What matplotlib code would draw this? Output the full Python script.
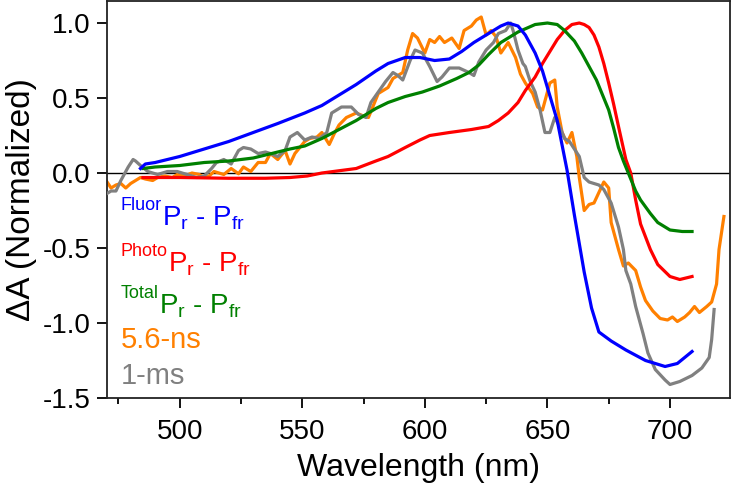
import matplotlib

matplotlib.use("Agg")
import matplotlib.pyplot as plt
from matplotlib.ticker import MultipleLocator

plt.rcParams["font.family"] = ["Liberation Sans", "DejaVu Sans"]
plt.rcParams["mathtext.fontset"] = "custom"
plt.rcParams["mathtext.rm"] = "Liberation Sans"

# --- data ------------------------------------------------------------------
fluor_wl = [484, 486, 490, 500, 510, 520, 530, 540, 551, 558, 565, 572, 580, 585,
            592, 598, 604, 610, 615, 620, 626, 631, 634, 638, 641, 645, 648, 650,
            654, 658, 661, 665, 668, 671, 676, 682, 690, 698, 703, 709]
fluor_val = [0.03, 0.06, 0.07, 0.11, 0.16, 0.21, 0.27, 0.33, 0.40, 0.45, 0.52, 0.59,
             0.68, 0.73, 0.77, 0.77, 0.75, 0.76, 0.81, 0.87, 0.93, 0.98, 1.00, 0.98,
             0.92, 0.80, 0.68, 0.57, 0.35, 0.02, -0.28, -0.66, -0.90, -1.06, -1.12,
             -1.18, -1.25, -1.29, -1.27, -1.19]

photo_wl = [485, 500, 520, 535, 545, 552, 558, 565, 572, 580, 585, 592, 598, 602,
            610, 619, 626, 630, 634, 638, 641, 645, 648, 651, 654, 657, 660, 663,
            665, 667, 669, 671, 673, 675, 677, 679, 682, 684, 686, 688, 692, 695,
            700, 704, 709]
photo_val = [-0.03, -0.03, -0.035, -0.035, -0.03, -0.02, 0.0, 0.015, 0.03, 0.08, 0.11,
             0.17, 0.22, 0.25, 0.27, 0.29, 0.31, 0.35, 0.40, 0.47, 0.55, 0.64, 0.73,
             0.81, 0.89, 0.95, 0.99, 1.00, 0.99, 0.97, 0.92, 0.84, 0.73, 0.60, 0.46,
             0.31, 0.09, 0.0, -0.18, -0.34, -0.51, -0.61, -0.69, -0.71, -0.69]

total_wl = [485, 490, 500, 510, 520, 530, 540, 545, 551, 558, 565, 572, 580, 585,
            592, 599, 606, 613, 618, 622, 626, 631, 638, 645, 650, 654, 657, 661,
            664, 667, 670, 673, 675, 677, 679, 681, 683, 686, 688, 692, 695, 700,
            705, 709]
total_val = [0.03, 0.04, 0.05, 0.07, 0.08, 0.10, 0.14, 0.16, 0.18, 0.23, 0.29, 0.35,
             0.43, 0.47, 0.51, 0.54, 0.58, 0.63, 0.67, 0.72, 0.79, 0.87, 0.94, 0.99,
             1.00, 0.99, 0.95, 0.88, 0.80, 0.71, 0.62, 0.50, 0.42, 0.30, 0.17, 0.08,
             0.0, -0.12, -0.18, -0.27, -0.33, -0.38, -0.39, -0.39]

ns_wl = [470, 472, 474, 476, 478, 480, 482, 484, 486, 489, 491, 494, 497, 499, 502,
         505, 508, 510, 512, 514, 516, 518, 521, 524, 526, 529, 532, 535, 537, 540,
         543, 545, 547, 549, 551, 553, 556, 558, 561, 563, 565, 568, 572, 575, 577,
         579, 581, 585, 587, 590, 591, 593, 595, 597, 600, 602, 604, 606, 608, 611,
         614, 616, 619, 621, 623, 625, 627, 629, 631, 634, 637, 639, 641, 644, 646,
         648, 651, 653, 654, 656, 658, 660, 662, 663, 665, 667, 669, 671, 673, 675,
         676, 679, 681, 683, 686, 688, 690, 693, 696, 699, 701, 703, 706, 708, 710,
         712, 715, 717, 719, 720, 722]
ns_val = [-0.05, -0.10, -0.08, -0.07, -0.10, -0.07, -0.05, -0.03, -0.04, -0.05, -0.03,
          -0.02, -0.03, -0.01, -0.02, 0.0, -0.01, -0.03, -0.02, 0.01, 0.0, -0.01, 0.03,
          -0.005, 0.04, 0.01, 0.07, 0.07, 0.13, 0.09, 0.15, 0.06, 0.13, 0.17, 0.21,
          0.23, 0.24, 0.27, 0.19, 0.26, 0.32, 0.37, 0.40, 0.38, 0.37, 0.45, 0.53, 0.57,
          0.63, 0.66, 0.67, 0.82, 0.93, 0.90, 0.80, 0.89, 0.87, 0.91, 0.87, 0.90, 0.83,
          0.95, 0.98, 1.02, 1.04, 0.92, 0.95, 0.91, 0.80, 0.87, 0.77, 0.66, 0.60, 0.53,
          0.44, 0.42, 0.60, 0.62, 0.44, 0.27, 0.20, 0.27, 0.11, -0.03, -0.25, -0.21,
          -0.20, -0.13, -0.06, -0.10, -0.33, -0.51, -0.62, -0.60, -0.65, -0.76, -0.85,
          -0.92, -0.97, -0.98, -0.96, -0.99, -0.96, -0.93, -0.89, -0.93, -0.89, -0.86,
          -0.74, -0.51, -0.29]

ms_wl = [470, 472, 474, 476, 479, 481, 482, 484, 487, 491, 495, 499, 503, 507, 510,
         513, 515, 518, 521, 524, 526, 529, 532, 535, 537, 540, 543, 545, 548, 551,
         554, 557, 560, 562, 566, 570, 573, 576, 578, 581, 584, 587, 589, 591, 594,
         596, 599, 602, 605, 607, 610, 614, 618, 620, 622, 625, 628, 630, 633, 635,
         636, 638, 640, 641, 643, 645, 647, 649, 651, 653, 655, 657, 659, 661, 663,
         665, 667, 671, 673, 676, 679, 681, 682, 684, 686, 689, 691, 694, 698, 700,
         704, 709, 713, 716, 717, 718]
ms_val = [-0.14, -0.12, -0.12, -0.05, 0.04, 0.09, 0.08, 0.05, 0.01, -0.01, 0.01, 0.01,
          -0.01, -0.03, -0.02, 0.03, 0.07, 0.09, 0.06, 0.15, 0.17, 0.16, 0.13, 0.14,
          0.13, 0.11, 0.15, 0.24, 0.27, 0.22, 0.24, 0.23, 0.27, 0.40, 0.44, 0.44, 0.39,
          0.37, 0.47, 0.54, 0.61, 0.67, 0.65, 0.62, 0.75, 0.82, 0.80, 0.71, 0.61, 0.64,
          0.70, 0.70, 0.67, 0.65, 0.74, 0.82, 0.87, 0.93, 0.95, 1.00, 0.95, 0.82, 0.73,
          0.71, 0.61, 0.54, 0.42, 0.27, 0.27, 0.37, 0.31, 0.23, 0.21, 0.16, 0.11, -0.03,
          -0.06, -0.08, -0.11, -0.20, -0.36, -0.51, -0.65, -0.74, -0.89, -1.07, -1.20,
          -1.31, -1.38, -1.41, -1.39, -1.35, -1.30, -1.23, -1.11, -0.91]

x_ticks = [500, 550, 600, 650, 700]
y_ticks = [-1.5, -1.0, -0.5, 0.0, 0.5, 1.0]

# (superscript, main text, colour) for the coloured labels in the lower left
labels = [
    ("Fluor", r"P$_\mathregular{r}$ - P$_\mathregular{fr}$", "#0000ff"),
    ("Photo", r"P$_\mathregular{r}$ - P$_\mathregular{fr}$", "#ff0000"),
    ("Total", r"P$_\mathregular{r}$ - P$_\mathregular{fr}$", "#008000"),
]
plain_labels = [("5.6-ns", "#ff8000"), ("1-ms", "#808080")]

fig = plt.figure(figsize=(7.32, 4.83), dpi=100)
ax = fig.add_axes([0.146, 0.176, 0.851, 0.822])

ax.axhline(0, color="black", lw=1.0, zorder=1)
lw = 2.3
ax.plot(ns_wl, ns_val, color="#ff8000", lw=lw, zorder=2)
ax.plot(ms_wl, ms_val, color="#808080", lw=lw, zorder=3)
ax.plot(photo_wl, photo_val, color="#ff0000", lw=lw, zorder=4)
ax.plot(total_wl, total_val, color="#008000", lw=lw, zorder=5)
ax.plot(fluor_wl, fluor_val, color="#0000ff", lw=lw, zorder=6)

ax.set_xlim(470.3, 724.4)
ax.set_ylim(-1.5, 1.147)
ax.set_xticks(x_ticks)
ax.xaxis.set_minor_locator(MultipleLocator(25))
ax.set_yticks(y_ticks)
ax.set_yticklabels([f"{v:.1f}" for v in y_ticks])

ax.tick_params(axis="both", which="major", direction="out", length=7, width=1.3,
               labelsize=20, pad=5)
ax.tick_params(axis="x", which="major", pad=8)
ax.tick_params(axis="x", which="minor", direction="out", length=4, width=1.3)
for sp in ax.spines.values():
    sp.set_linewidth(1.3)
    sp.set_color("#222222")

ax.set_xlabel("Wavelength (nm)", fontsize=23, labelpad=6)
ax.set_ylabel("ΔA (Normalized)", fontsize=24, labelpad=4)

# coloured labels: small superscript first, then the main text after it
tops = [0.506, 0.39, 0.285]
for (sup, main, color), top in zip(labels, tops):
    s = ax.text(0.0225, top, sup, transform=ax.transAxes, fontsize=13,
                color=color, ha="left", va="top")
    ax.annotate(main, xy=(1, 0), xycoords=s, xytext=(0, 7),
                textcoords="offset points", fontsize=20, color=color,
                ha="left", va="top")

for (txt, color), base in zip(plain_labels, [0.126, 0.035]):
    ax.text(0.0225, base, txt, transform=ax.transAxes, fontsize=21,
            color=color, ha="left", va="baseline")

fig.savefig("out.png", dpi=100)
